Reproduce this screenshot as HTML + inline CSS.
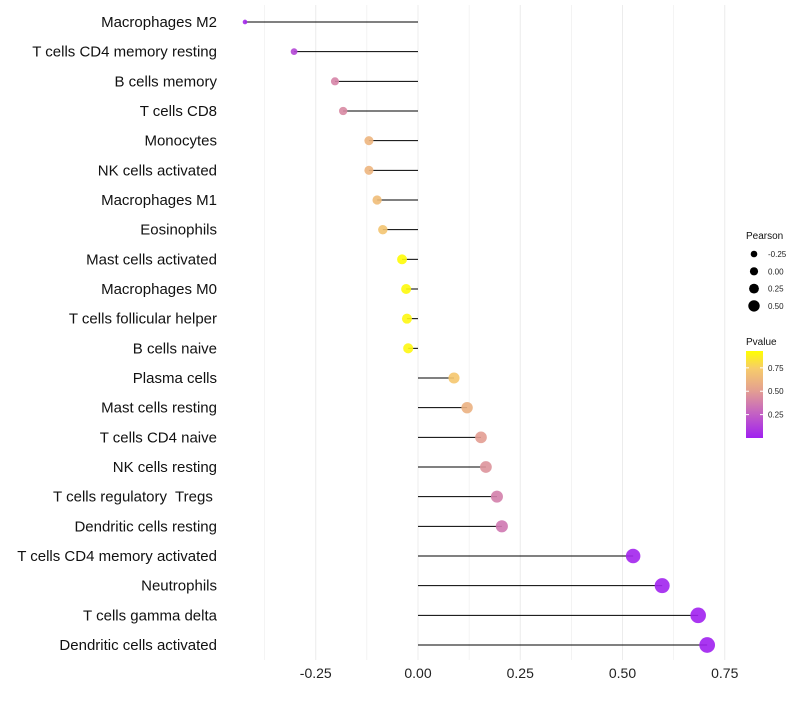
<!DOCTYPE html>
<html><head><meta charset="utf-8"><style>
body{margin:0;background:#fff}
svg{font-family:"Liberation Sans",Arial,sans-serif}
text{white-space:pre}
</style></head><body>
<svg id="chart" width="800" height="700"></svg>
<script>
const categories=["Macrophages M2","T cells CD4 memory resting","B cells memory","T cells CD8","Monocytes","NK cells activated","Macrophages M1","Eosinophils","Mast cells activated","Macrophages M0","T cells follicular helper","B cells naive","Plasma cells","Mast cells resting","T cells CD4 naive","NK cells resting","T cells regulatory  Tregs ","Dendritic cells resting","T cells CD4 memory activated","Neutrophils","T cells gamma delta","Dendritic cells activated"];
const pearson=[-0.423,-0.303,-0.203,-0.183,-0.12,-0.12,-0.10,-0.086,-0.039,-0.029,-0.027,-0.024,0.088,0.12,0.154,0.166,0.193,0.205,0.526,0.597,0.685,0.707];
const pvalues=[0.03,0.15,0.4,0.42,0.62,0.62,0.66,0.7,0.92,0.91,0.9,0.9,0.72,0.6,0.5,0.46,0.38,0.35,0.02,0.01,0.005,0.001];
const xTicks=[-0.25,0,0.25,0.5,0.75];
const xTickLabels=["-0.25","0.00","0.25","0.50","0.75"];
const sizeLegend=[-0.25,0,0.25,0.5];
const sizeLegendLabels=["-0.25","0.00","0.25","0.50"];
const pTicks=[0.25,0.5,0.75];
const pTickLabels=["0.25","0.50","0.75"];

const NS="http://www.w3.org/2000/svg";
const svg=document.getElementById('chart');
function mk(tag,attrs,parent){const e=document.createElementNS(NS,tag);for(const k in attrs)e.setAttribute(k,attrs[k]);(parent||svg).appendChild(e);return e;}
const x=v=>418+v*409;
const y=i=>22+i*(623/21);
const rad=v=>Math.sqrt(Math.max(2.5,14+50*(v+0.25)));
const stops=[[0,[160,32,240]],[0.3,[198,102,192]],[0.55,[228,160,144]],[0.8,[247,204,106]],[1,[255,255,0]]];
function col(p){let t=Math.min(1,Math.max(0,p/0.93));for(let i=1;i<stops.length;i++){if(t<=stops[i][0]){const a=stops[i-1],b=stops[i];const f=(t-a[0])/(b[0]-a[0]);const c=a[1].map((v,j)=>Math.round(v+(b[1][j]-v)*f));return `rgb(${c})`;}}return 'rgb(255,255,0)';}

for(let k=-3;k<=6;k++){const v=k*0.125;const g=mk('line',{x1:x(v),x2:x(v),y1:5,y2:660,stroke:'#ececec','stroke-width':k%2===0?1:0.6});

}
xTicks.forEach((v,i)=>{const t=mk('text',{x:x(v),y:678,'text-anchor':'middle','font-size':14,fill:'#222'});t.textContent=xTickLabels[i];

});
categories.forEach((c,i)=>{
const t=mk('text',{x:217,y:y(i)+5,'text-anchor':'end','font-size':15,fill:'#111'});t.textContent=c;


const l=mk('line',{x1:x(0),x2:x(pearson[i]),y1:y(i),y2:y(i),stroke:'#000','stroke-width':1});


const p=mk('circle',{cx:x(pearson[i]),cy:y(i),r:rad(pearson[i]),fill:col(pvalues[i]),'fill-opacity':0.9});


});
let lt=mk('text',{x:746,y:239,'font-size':10,fill:'#111'});lt.textContent='Pearson';


sizeLegend.forEach((v,i)=>{const cy=254+i*17.3;
const c=mk('circle',{cx:754,cy:cy,r:3.3+i*0.8,fill:'#000'});


const t=mk('text',{x:768,y:cy+3,'font-size':8,fill:'#222'});t.textContent=sizeLegendLabels[i];

});
let ct=mk('text',{x:746,y:345,'font-size':10,fill:'#111'});ct.textContent='Pvalue';


const defs=mk('defs',{});const lg=mk('linearGradient',{id:'pg',x1:0,y1:1,x2:0,y2:0},defs);
stops.forEach(s=>mk('stop',{offset:s[0],'stop-color':`rgb(${s[1]})`},lg));
const bar=mk('rect',{x:746,y:351,width:17,height:87,fill:'url(#pg)'});


pTicks.forEach((v,i)=>{const yy=438-v/0.93*87;
mk('line',{x1:746,x2:749,y1:yy,y2:yy,stroke:'#fff'});mk('line',{x1:760,x2:763,y1:yy,y2:yy,stroke:'#fff'});
const t=mk('text',{x:768,y:yy+3,'font-size':8,fill:'#222'});t.textContent=pTickLabels[i];

});
</script>
</body></html>
